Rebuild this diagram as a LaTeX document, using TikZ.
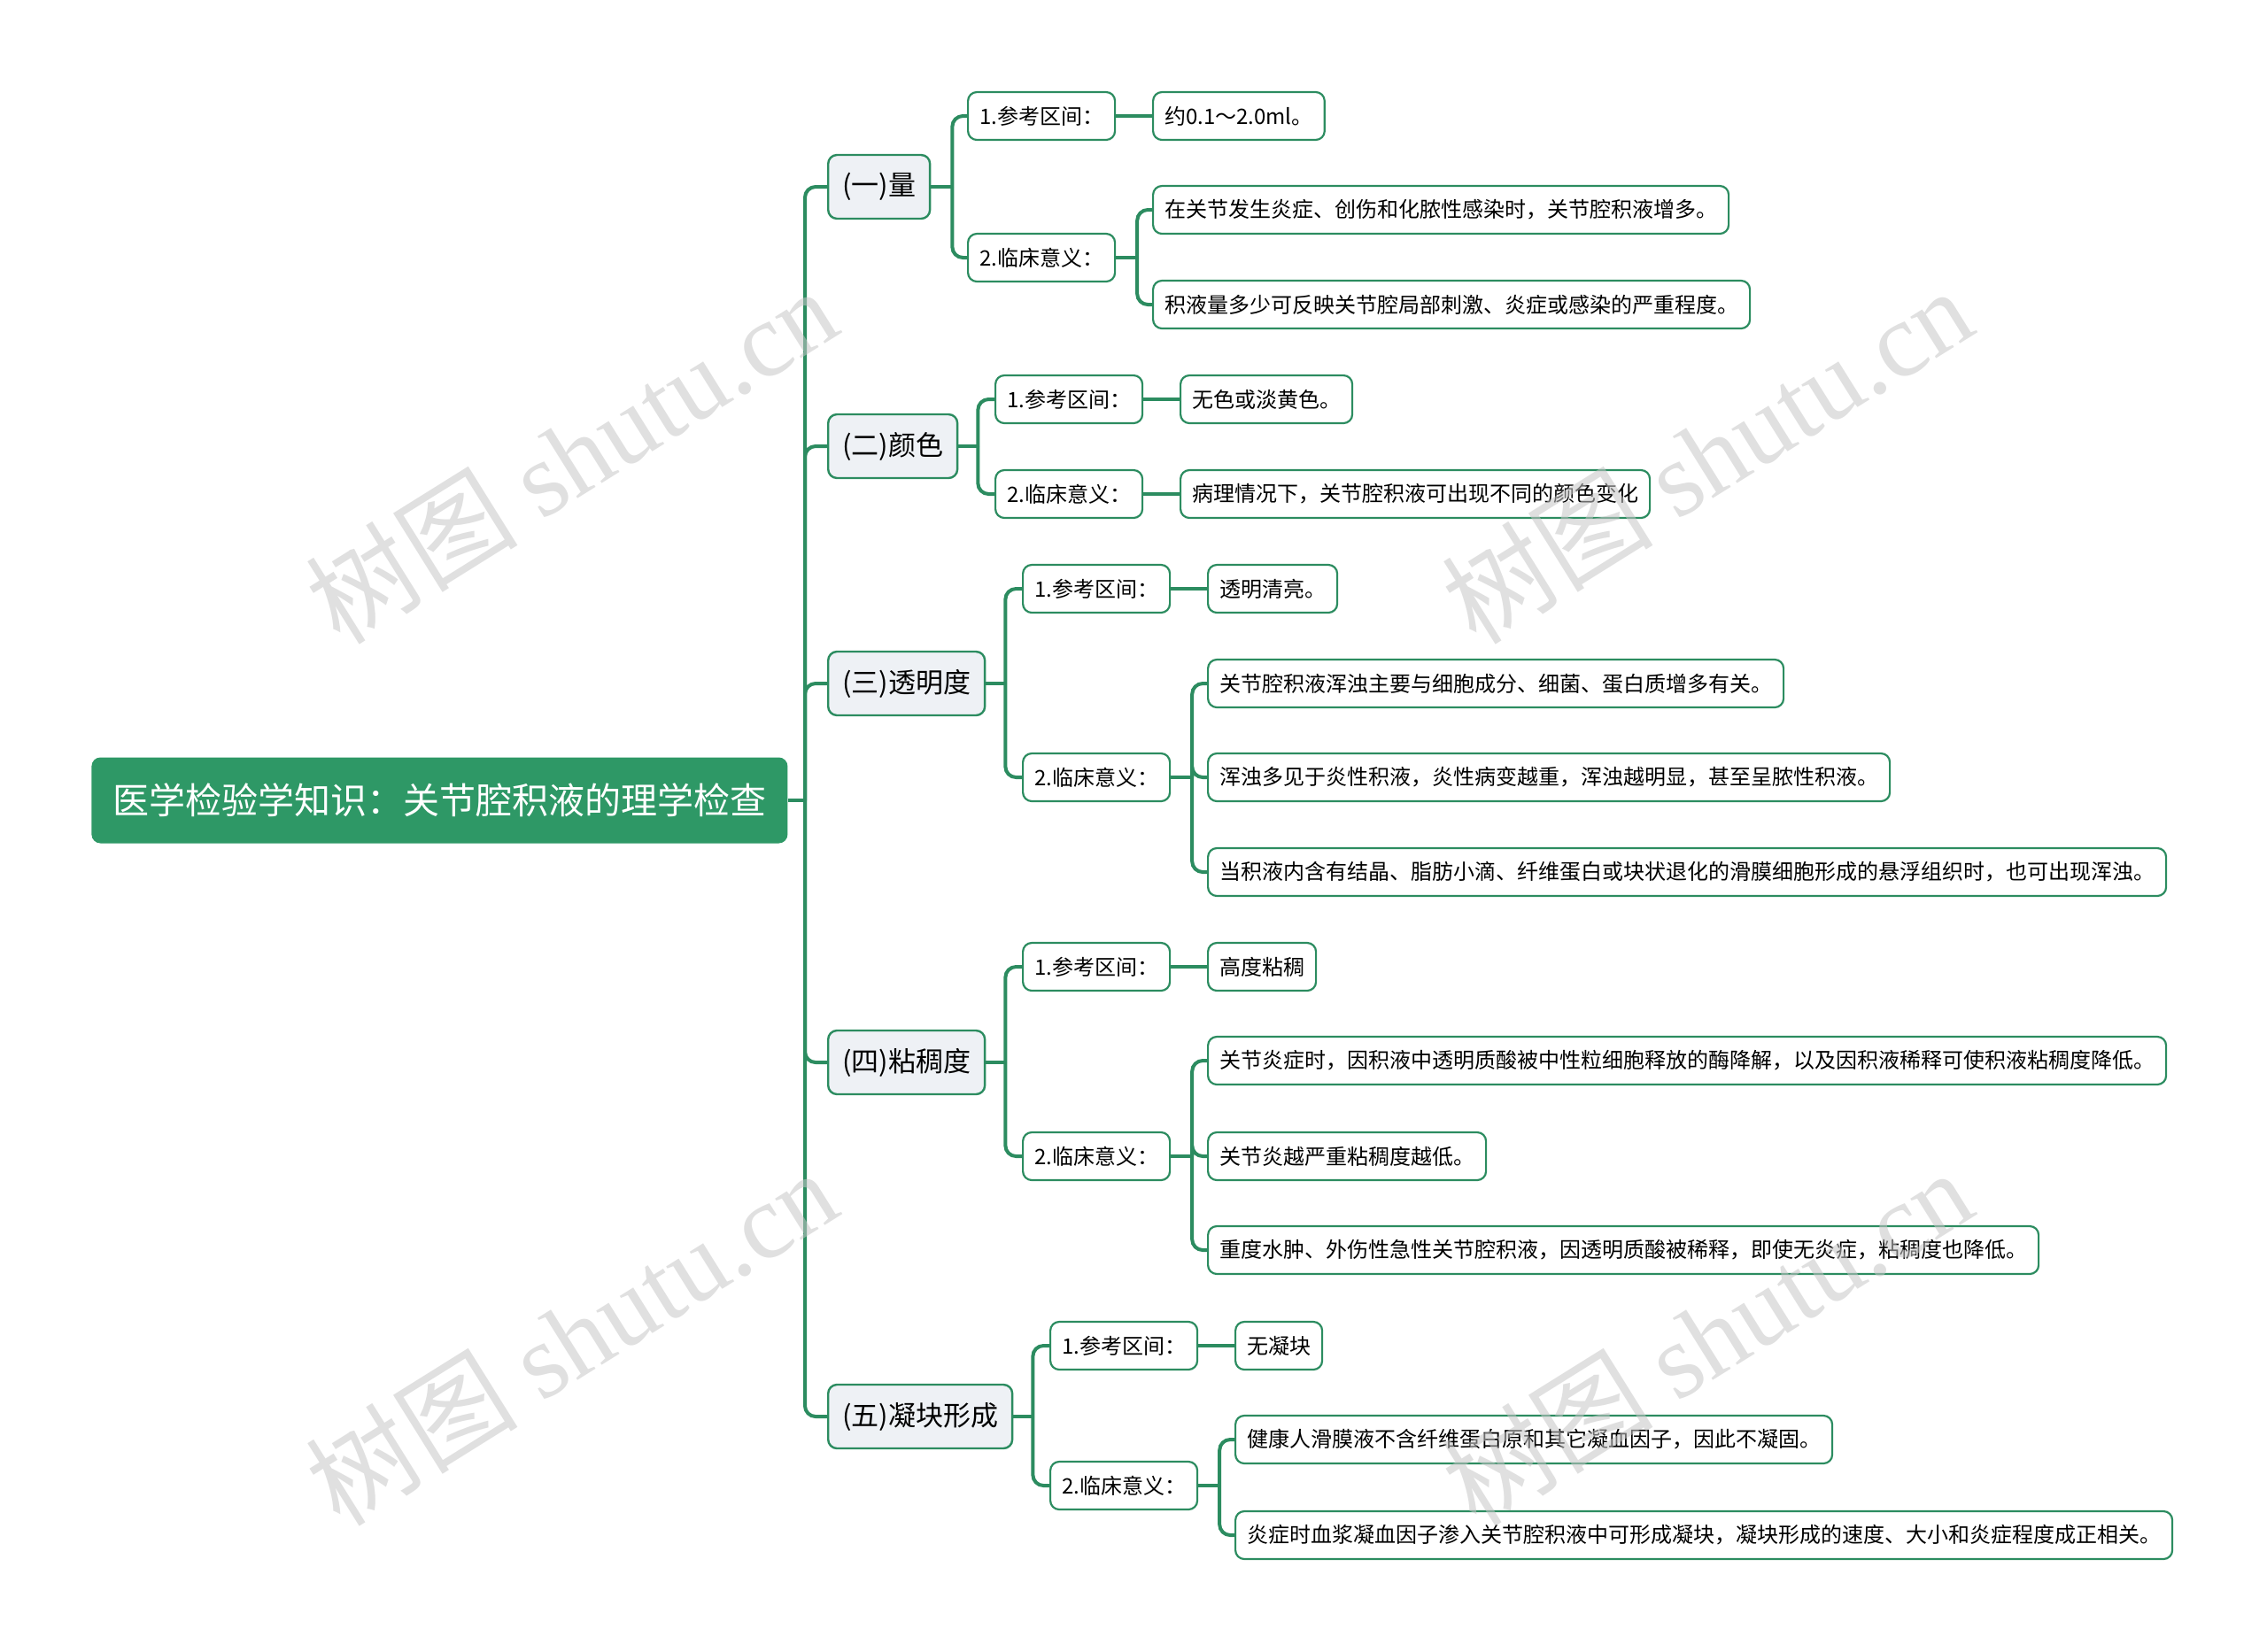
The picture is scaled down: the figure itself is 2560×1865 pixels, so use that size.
\documentclass[tikz,border=0pt]{standalone}
\usepackage{fontspec}
\setmainfont{Noto Sans CJK SC}
\newfontfamily\wmlatin{Liberation Serif}
\usetikzlibrary{positioning}
\definecolor{rootgreen}{RGB}{46,152,102}
\definecolor{linegreen}{RGB}{44,140,96}
\definecolor{lonefill}{RGB}{238,241,245}
\tikzset{
  rootbox/.style={fill=rootgreen, text=white, rounded corners=5pt, font=\fontsize{20.5}{24}\selectfont, minimum height=48.5pt, inner xsep=12pt, anchor=west},
  lonebox/.style={draw=linegreen, fill=lonefill, line width=1.2pt, rounded corners=5pt, font=\fontsize{15.5}{18}\selectfont, minimum height=36pt, inner xsep=8pt, anchor=west},
  ltwobox/.style={draw=linegreen, fill=white, line width=1.1pt, rounded corners=5pt, font=\fontsize{12}{14}\selectfont, minimum height=27pt, inner xsep=6.5pt, anchor=west},
  conn/.style={draw=linegreen, line width=2pt},
  rconn/.style={conn, rounded corners=6pt},
  wm/.style={text=gray!45, opacity=0.55, rotate=32, font=\fontsize{60}{64}\selectfont}
}
\begin{document}
\begin{tikzpicture}[x=0.5pt,y=-0.5pt]
\useasboundingbox (0,0) rectangle (2560,1865);
% root
\node[rootbox] (root) at (103,904) {医学检验学知识：关节腔积液的理学检查};
% level 1
\node[lonebox] (a1) at (934,211) {(一)量};
\node[lonebox] (a2) at (934,504) {(二)颜色};
\node[lonebox] (a3) at (934,772) {(三)透明度};
\node[lonebox] (a4) at (934,1200) {(四)粘稠度};
\node[lonebox] (a5) at (934,1600) {(五)凝块形成};
% level 2
\node[ltwobox] (b11) at (1092,131) {1.参考区间：};
\node[ltwobox] (b12) at (1092,291) {2.临床意义：};
\node[ltwobox] (b21) at (1123,451) {1.参考区间：};
\node[ltwobox] (b22) at (1123,558) {2.临床意义：};
\node[ltwobox] (b31) at (1154,665) {1.参考区间：};
\node[ltwobox] (b32) at (1154,878) {2.临床意义：};
\node[ltwobox] (b41) at (1154,1092) {1.参考区间：};
\node[ltwobox] (b42) at (1154,1306) {2.临床意义：};
\node[ltwobox] (b51) at (1185,1520) {1.参考区间：};
\node[ltwobox] (b52) at (1185,1678) {2.临床意义：};
% leaves
\node[ltwobox] (c111) at (1301,131) {约0.1～2.0ml。};
\node[ltwobox] (c121) at (1301,237) {在关节发生炎症、创伤和化脓性感染时，关节腔积液增多。};
\node[ltwobox] (c122) at (1301,344) {积液量多少可反映关节腔局部刺激、炎症或感染的严重程度。};
\node[ltwobox] (c211) at (1332,451) {无色或淡黄色。};
\node[ltwobox] (c221) at (1332,558) {病理情况下，关节腔积液可出现不同的颜色变化};
\node[ltwobox] (c311) at (1363,665) {透明清亮。};
\node[ltwobox] (c321) at (1363,772) {关节腔积液浑浊主要与细胞成分、细菌、蛋白质增多有关。};
\node[ltwobox] (c322) at (1363,878) {浑浊多见于炎性积液，炎性病变越重，浑浊越明显，甚至呈脓性积液。};
\node[ltwobox] (c323) at (1363,985) {当积液内含有结晶、脂肪小滴、纤维蛋白或块状退化的滑膜细胞形成的悬浮组织时，也可出现浑浊。};
\node[ltwobox] (c411) at (1363,1092) {高度粘稠};
\node[ltwobox] (c421) at (1363,1198) {关节炎症时，因积液中透明质酸被中性粒细胞释放的酶降解，以及因积液稀释可使积液粘稠度降低。};
\node[ltwobox] (c422) at (1363,1306) {关节炎越严重粘稠度越低。};
\node[ltwobox] (c423) at (1363,1412) {重度水肿、外伤性急性关节腔积液，因透明质酸被稀释，即使无炎症，粘稠度也降低。};
\node[ltwobox] (c511) at (1394,1520) {无凝块};
\node[ltwobox] (c521) at (1394,1626) {健康人滑膜液不含纤维蛋白原和其它凝血因子，因此不凝固。};
\node[ltwobox] (c522) at (1394,1734) {炎症时血浆凝血因子渗入关节腔积液中可形成凝块，凝块形成的速度、大小和炎症程度成正相关。};
% junctions
\coordinate (t0) at (909,904);
\coordinate (j1) at ([xshift=12pt]a1.east);
\coordinate (j2) at ([xshift=11pt]a2.east);
\coordinate (j3) at ([xshift=11pt]a3.east);
\coordinate (j4) at ([xshift=11pt]a4.east);
\coordinate (j5) at ([xshift=11pt]a5.east);
\coordinate (k12) at ([xshift=12pt]b12.east);
\coordinate (k32) at ([xshift=12pt]b32.east);
\coordinate (k42) at ([xshift=12pt]b42.east);
\coordinate (k52) at ([xshift=12pt]b52.east);
% root connectors
\draw[conn] (root.east) -- (t0);
\foreach \n in {a1,a2,a3,a4,a5} {\draw[rconn] (t0) |- (\n.west);}
% level1 -> level2
\draw[conn] (a1.east) -- (j1);
\draw[rconn] (j1) |- (b11.west); \draw[rconn] (j1) |- (b12.west);
\draw[conn] (a2.east) -- (j2);
\draw[rconn] (j2) |- (b21.west); \draw[rconn] (j2) |- (b22.west);
\draw[conn] (a3.east) -- (j3);
\draw[rconn] (j3) |- (b31.west); \draw[rconn] (j3) |- (b32.west);
\draw[conn] (a4.east) -- (j4);
\draw[rconn] (j4) |- (b41.west); \draw[rconn] (j4) |- (b42.west);
\draw[conn] (a5.east) -- (j5);
\draw[rconn] (j5) |- (b51.west); \draw[rconn] (j5) |- (b52.west);
% level2 -> leaves
\draw[conn] (b11.east) -- (c111.west);
\draw[conn] (b12.east) -- (k12);
\draw[rconn] (k12) |- (c121.west); \draw[rconn] (k12) |- (c122.west);
\draw[conn] (b21.east) -- (c211.west);
\draw[conn] (b22.east) -- (c221.west);
\draw[conn] (b31.east) -- (c311.west);
\draw[conn] (b32.east) -- (k32);
\draw[rconn] (k32) |- (c321.west); \draw[rconn] (k32) |- (c322.west); \draw[rconn] (k32) |- (c323.west);
\draw[conn] (b41.east) -- (c411.west);
\draw[conn] (b42.east) -- (k42);
\draw[rconn] (k42) |- (c421.west); \draw[rconn] (k42) |- (c422.west); \draw[rconn] (k42) |- (c423.west);
\draw[conn] (b51.east) -- (c511.west);
\draw[conn] (b52.east) -- (k52);
\draw[rconn] (k52) |- (c521.west); \draw[rconn] (k52) |- (c522.west);
% watermarks
\node[wm] (w1) at (645,514) {树图 {\wmlatin shutu.cn}};
\node[wm] (w2) at (1927,514) {树图 {\wmlatin shutu.cn}};
\node[wm] (w3) at (645,1510) {树图 {\wmlatin shutu.cn}};
\node[wm] (w4) at (1927,1510) {树图 {\wmlatin shutu.cn}};
\end{tikzpicture}
\end{document}
